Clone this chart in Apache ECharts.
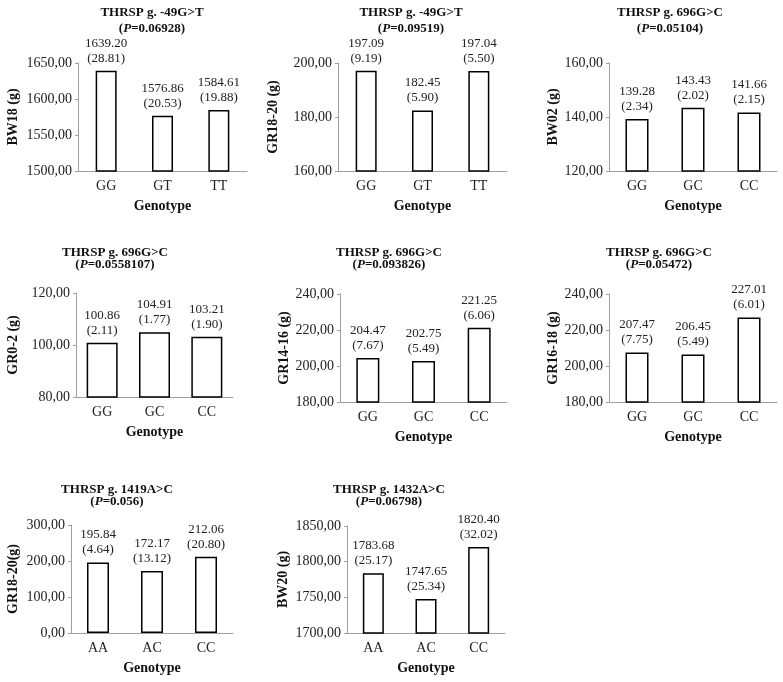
<!DOCTYPE html>
<html>
<head>
<meta charset="utf-8">
<script src="https://cdn.jsdelivr.net/npm/echarts@6/dist/echarts.min.js"></script>
<style>
html,body{margin:0;padding:0;background:#fff;}
#c{width:783px;height:682px;}
</style>
</head>
<body>
<div id="c"></div>
<script>
// ---- data ----
const cats1 = ['GG', 'GT', 'TT'];
const vals1 = [1639.20, 1576.86, 1584.61];
const se1 = [28.81, 20.53, 19.88];

const cats2 = ['GG', 'GT', 'TT'];
const vals2 = [197.09, 182.45, 197.04];
const se2 = [9.19, 5.90, 5.50];

const cats3 = ['GG', 'GC', 'CC'];
const vals3 = [139.28, 143.43, 141.66];
const se3 = [2.34, 2.02, 2.15];

const cats4 = ['GG', 'GC', 'CC'];
const vals4 = [100.86, 104.91, 103.21];
const se4 = [2.11, 1.77, 1.90];

const cats5 = ['GG', 'GC', 'CC'];
const vals5 = [204.47, 202.75, 221.25];
const se5 = [7.67, 5.49, 6.06];

const cats6 = ['GG', 'GC', 'CC'];
const vals6 = [207.47, 206.45, 227.01];
const se6 = [7.75, 5.49, 6.01];

const cats7 = ['AA', 'AC', 'CC'];
const vals7 = [195.84, 172.17, 212.06];
const se7 = [4.64, 13.12, 20.80];

const cats8 = ['AA', 'AC', 'CC'];
const vals8 = [1783.68, 1747.65, 1820.40];
const se8 = [25.17, 25.34, 32.02];

const snpNames = ['THRSP g. -49G>T', 'THRSP g. -49G>T', 'THRSP g. 696G>C', 'THRSP g. 696G>C',
                  'THRSP g. 696G>C', 'THRSP g. 696G>C', 'THRSP g. 1419A>C', 'THRSP g. 1432A>C'];
const pValues = ['0.06928', '0.09519', '0.05104', '0.0558107', '0.093826', '0.05472', '0.056', '0.06798'];
const yNames = ['BW18 (g)', 'GR18-20 (g)', 'BW02 (g)', 'GR0-2 (g)', 'GR14-16 (g)', 'GR16-18 (g)', 'GR18-20(g)', 'BW20 (g)'];
const yMins = [1500, 160, 120, 80, 180, 180, 0, 1700];
const yMaxs = [1650, 200, 160, 120, 240, 240, 300, 1850];
const yIntervals = [50, 20, 20, 20, 20, 20, 100, 50];
const xName = 'Genotype';

const panels = [
  [cats1, vals1, se1], [cats2, vals2, se2], [cats3, vals3, se3], [cats4, vals4, se4],
  [cats5, vals5, se5], [cats6, vals6, se6], [cats7, vals7, se7], [cats8, vals8, se8]
];

// ---- layout (pixels) ----
const grids = [
  {left: 78,  top: 63,  width: 169, height: 108},
  {left: 338, top: 63,  width: 169, height: 108},
  {left: 609, top: 63,  width: 168, height: 108},
  {left: 76,  top: 293, width: 157, height: 104},
  {left: 340, top: 294, width: 167, height: 108},
  {left: 609, top: 294, width: 168, height: 108},
  {left: 71,  top: 525, width: 162, height: 108},
  {left: 347, top: 526, width: 158, height: 107}
];
const titlePos = [
  {x: 152, y: 5, lh: 16}, {x: 411, y: 5, lh: 16}, {x: 670, y: 5, lh: 16},
  {x: 115, y: 247, lh: 12}, {x: 389, y: 247, lh: 12}, {x: 659, y: 247, lh: 12},
  {x: 117, y: 484, lh: 12}, {x: 389, y: 484, lh: 12}
];
const yNameGaps = [58, 58, 49, 56, 48, 49, 51, 57];
const barWidths = [21, 21, 23, 31, 23, 23, 22, 21];

const FONT = "'Liberation Serif', 'Times New Roman', serif";
const AXIS_COLOR = '#a0a0a0';
const TEXT_COLOR = '#222';

const option = {
  animation: false,
  backgroundColor: '#fff',
  title: [], grid: [], xAxis: [], yAxis: [], series: []
};

panels.forEach((p, i) => {
  const [cats, vals, se] = p;
  const g = grids[i];
  option.grid.push({left: g.left, top: g.top, width: g.width, height: g.height, containLabel: false});
  option.title.push({
    text: '{b|' + snpNames[i] + '}\n{b|(}{i|P}{b|=' + pValues[i] + ')}',
    left: titlePos[i].x,
    top: titlePos[i].y,
    textAlign: 'center',
    padding: 0,
    textStyle: {
      fontFamily: FONT,
      rich: {
        b: {fontFamily: FONT, fontSize: 13, fontWeight: 'bold', color: '#111', lineHeight: titlePos[i].lh},
        i: {fontFamily: FONT, fontSize: 13, fontWeight: 'bold', fontStyle: 'italic', color: '#111', lineHeight: titlePos[i].lh}
      }
    }
  });
  option.xAxis.push({
    type: 'category',
    gridIndex: i,
    data: cats,
    name: xName,
    nameLocation: 'middle',
    nameGap: 28,
    nameTextStyle: {fontFamily: FONT, fontSize: 14, fontWeight: 'bold', color: '#111'},
    axisLine: {lineStyle: {color: AXIS_COLOR, width: 1}},
    axisTick: {show: false},
    axisLabel: {fontFamily: FONT, fontSize: 14, color: TEXT_COLOR, margin: 8}
  });
  option.yAxis.push({
    type: 'value',
    gridIndex: i,
    min: yMins[i],
    max: yMaxs[i],
    interval: yIntervals[i],
    name: yNames[i],
    nameLocation: 'middle',
    nameGap: yNameGaps[i],
    nameRotate: 90,
    nameTextStyle: {fontFamily: FONT, fontSize: 14, fontWeight: 'bold', color: '#111'},
    axisLine: {show: true, lineStyle: {color: AXIS_COLOR, width: 1}},
    axisTick: {show: true, length: 3, lineStyle: {color: AXIS_COLOR}},
    splitLine: {show: false},
    axisLabel: {
      fontFamily: FONT, fontSize: 14, color: TEXT_COLOR, margin: 6,
      formatter: v => v.toFixed(2).replace('.', ',')
    }
  });
  option.series.push({
    type: 'bar',
    xAxisIndex: i,
    yAxisIndex: i,
    data: vals,
    barWidth: barWidths[i],
    itemStyle: {color: '#fff', borderColor: '#000', borderWidth: 1.5},
    label: {
      show: true,
      position: 'top',
      distance: 5,
      fontFamily: FONT,
      fontSize: 13,
      lineHeight: 15,
      color: TEXT_COLOR,
      formatter: params => params.value.toFixed(2) + '\n(' + se[params.dataIndex].toFixed(2) + ')'
    }
  });
});

const chart = echarts.init(document.getElementById('c'), null, {renderer: 'canvas'});
chart.setOption(option);
</script>
</body>
</html>
